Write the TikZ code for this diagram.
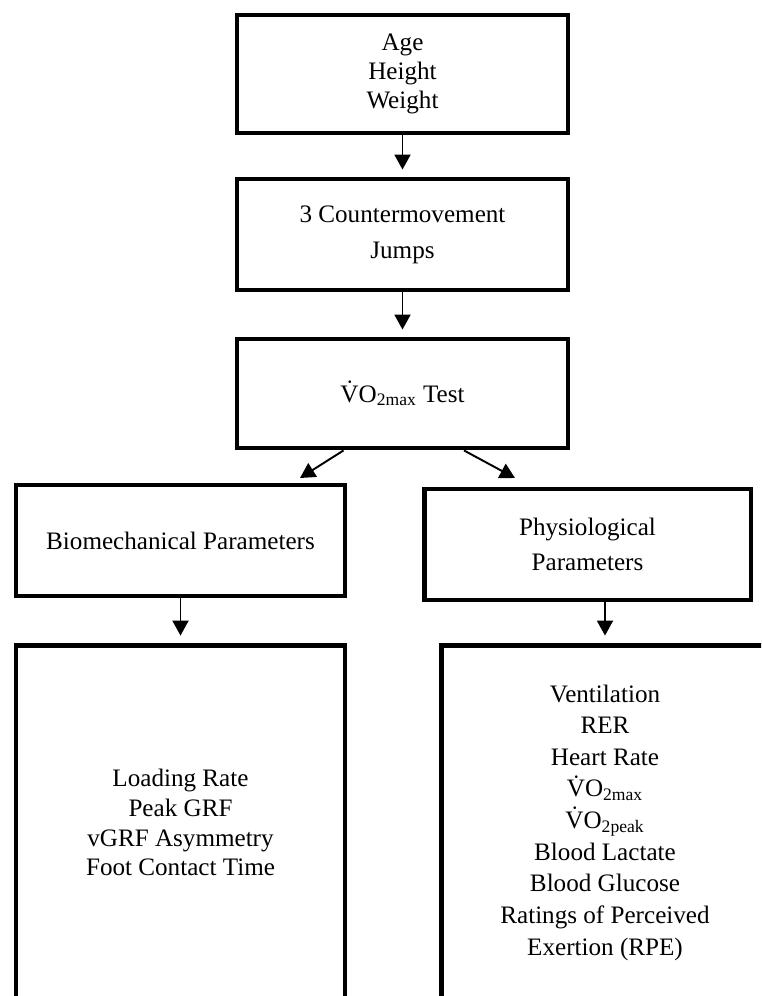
\documentclass[tikz,border=0pt]{standalone}
\usepackage{fontspec}
\setmainfont{Liberation Serif}
\usetikzlibrary{arrows.meta}

\newcommand{\VOmax}{\.{V}O\textsubscript{2max}}
\newcommand{\VOpeak}{\.{V}O\textsubscript{2peak}}

\begin{document}
\begin{tikzpicture}[x=0.02cm, y=-0.02cm,
	block/.style={rectangle, draw, line width=2.8pt, inner sep=0pt, align=center, font=\fontsize{14.3}{16.5}\selectfont},
	flow/.style={-{Triangle[length=0.3cm, width=0.32cm]}, line width=1.1pt, shorten >=0.14cm}]
	\clip (0,0) rectangle (761,996);
	\node[block, minimum width=6.62cm, minimum height=2.36cm] (age) at (402.5,74) {Age\\Height\\Weight};
	\node[block, minimum width=6.62cm, minimum height=2.22cm] (cmj) at (402.5,234.5) {3 Countermovement\\[4pt]Jumps};
	\node[block, minimum width=6.62cm, minimum height=2.18cm] (vo) at (402.5,393.5) {\VOmax{} Test};
	\node[block, minimum width=6.58cm, minimum height=2.22cm] (bio) at (180.5,540.5) {Biomechanical Parameters};
	\node[block, minimum width=6.54cm, minimum height=2.22cm] (phys) at (587.5,544.5) {Physiological\\[3.4pt]Parameters};
	\node[block, minimum width=6.58cm, minimum height=7.1cm, font=\fontsize{14.3}{17}\selectfont] (bioList) at (180.5,822.5)
		{Loading Rate\\Peak GRF\\vGRF Asymmetry\\Foot Contact Time};
	\node[block, minimum width=6.56cm, minimum height=7.1cm, font=\fontsize{14.3}{18}\selectfont] (physList) at (605,822.5)
		{Ventilation\\RER\\Heart Rate\\\VOmax\\\VOpeak\\Blood Lactate\\Blood Glucose\\Ratings of Perceived\\Exertion (RPE)};
	% free ends of the two split arrows
	\coordinate (bioTip) at (300,478);
	\coordinate (physTip) at (515,478);
	\path[flow] (age) edge (cmj);
	\path[flow] (cmj) edge (vo);
	\draw[flow, shorten >=0pt] ([xshift=-1.18cm]vo.south) -- (bioTip);
	\draw[flow, shorten >=0pt] ([xshift=1.23cm]vo.south) -- (physTip);
	\path[flow] (bio) edge (bioList);
	\draw[flow] (physList.north |- phys.south) -- (physList.north);
\end{tikzpicture}
\end{document}
